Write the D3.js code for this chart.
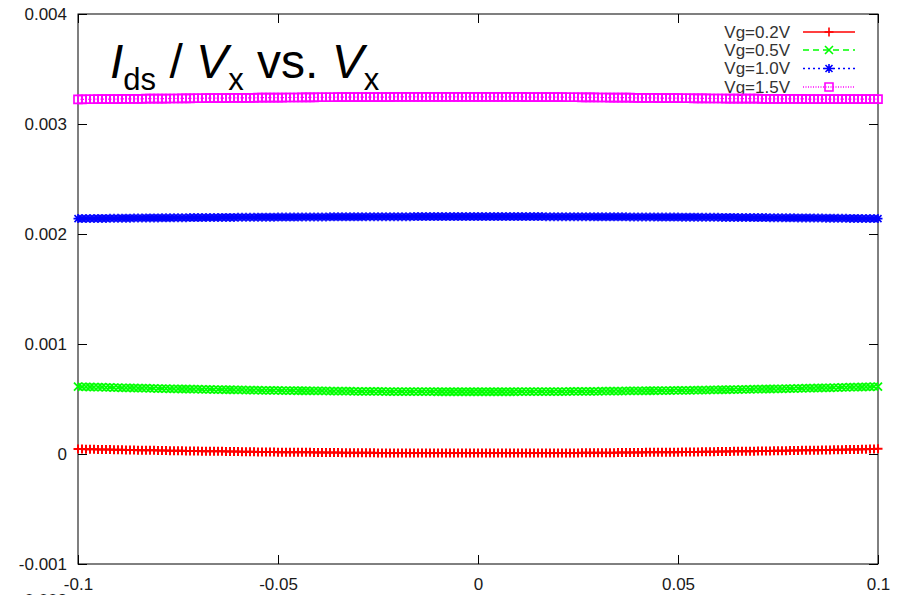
<!DOCTYPE html>
<html><head><meta charset="utf-8">
<script src="https://cdn.jsdelivr.net/npm/d3@7"></script>
<style>
body{margin:0;background:#fff}
svg{display:block;font-family:Arial,"Liberation Sans",sans-serif}
</style>
</head><body>
<svg id="c" width="899" height="595"></svg>
<script>
// ---- data ----
const seriesNames = ["Vg=0.2V", "Vg=0.5V", "Vg=1.0V", "Vg=1.5V"];
const xTicks = [-0.1, -0.05, 0, 0.05, 0.1];
const yTicks = [-0.001, 0, 0.001, 0.002, 0.003, 0.004];
const xStart = -0.1, xStep = 0.001;       // Vx sweep grid
const valueUnit = 1e-6;                    // series values below are in units of 1e-6

const vg02 = [
46,45,44,44,43,42,42,41,40,39, 39,38,37,37,36,35,35,34,34,33,
32,32,31,30,30,29,29,28,28,27, 27,26,26,25,25,24,24,23,23,22,
22,21,21,20,20,19,19,19,18,18, 17,17,17,16,16,16,15,15,15,14,
14,14,13,13,13,13,12,12,12,12, 11,11,11,11,11,10,10,10,10,10,
9,9,9,9,9,9,9,9,9,8, 8,8,8,8,8,8,8,8,8,8, 8,
8,8,8,8,8,8,8,8,8,8, 8,9,9,9,9,9,9,9,9,9,
10,10,10,10,10,11,11,11,11,11, 12,12,12,12,13,13,13,13,14,14,
14,15,15,15,16,16,16,17,17,17, 18,18,19,19,19,20,20,21,21,22,
22,23,23,24,24,25,25,26,26,27, 27,28,28,29,29,30,30,31,32,32,
33,34,34,35,35,36,37,37,38,39, 39,40,41,42,42,43,44,45,46,47
];
const vg05 = [
612,611,610,609,608,608,607,606,605,604, 603,602,602,601,600,599,598,598,597,596,
595,595,594,593,593,592,591,591,590,589, 589,588,587,587,586,585,585,584,584,583,
583,582,581,581,580,580,579,579,578,578, 578,577,577,576,576,575,575,575,574,574,
573,573,573,572,572,572,571,571,571,570, 570,570,570,569,569,569,569,568,568,568,
568,568,567,567,567,567,567,567,567,567, 566,566,566,566,566,566,566,566,566,566, 566,
566,566,566,566,566,566,566,566,566,567, 567,567,567,567,567,567,567,568,568,568,
568,568,569,569,569,569,570,570,570,570, 571,571,571,572,572,572,573,573,573,574,
574,575,575,575,576,576,577,577,578,578, 578,579,579,580,580,581,581,582,583,583,
584,584,585,585,586,587,587,588,589,589, 590,591,591,592,593,593,594,595,595,596,
597,598,598,599,600,601,602,602,603,604, 605,606,607,608,608,609,610,611,612,613
];
const vg10 = [
2140,2140,2141,2141,2141,2142,2142,2142,2143,2143, 2143,2144,2144,2144,2145,2145,2145,2146,2146,2146,
2146,2147,2147,2147,2148,2148,2148,2148,2149,2149, 2149,2149,2150,2150,2150,2150,2151,2151,2151,2151,
2152,2152,2152,2152,2152,2153,2153,2153,2153,2153, 2154,2154,2154,2154,2154,2154,2155,2155,2155,2155,
2155,2155,2155,2156,2156,2156,2156,2156,2156,2156, 2156,2156,2157,2157,2157,2157,2157,2157,2157,2157,
2157,2157,2157,2157,2158,2158,2158,2158,2158,2158, 2158,2158,2158,2158,2158,2158,2158,2158,2158,2158, 2158,
2158,2158,2158,2158,2158,2158,2158,2158,2158,2158, 2158,2158,2158,2158,2158,2158,2157,2157,2157,2157,
2157,2157,2157,2157,2157,2157,2157,2157,2156,2156, 2156,2156,2156,2156,2156,2156,2156,2155,2155,2155,
2155,2155,2155,2155,2154,2154,2154,2154,2154,2154, 2153,2153,2153,2153,2153,2152,2152,2152,2152,2152,
2151,2151,2151,2151,2150,2150,2150,2150,2149,2149, 2149,2149,2148,2148,2148,2148,2147,2147,2147,2146,
2146,2146,2146,2145,2145,2145,2144,2144,2144,2143, 2143,2143,2142,2142,2142,2141,2141,2141,2140,2140
];
const vg15 = [
3224,3224,3225,3225,3225,3226,3226,3226,3227,3227, 3227,3228,3228,3228,3229,3229,3229,3230,3230,3230,
3231,3231,3231,3232,3232,3232,3233,3233,3233,3234, 3234,3234,3235,3235,3235,3236,3236,3236,3237,3237,
3237,3238,3238,3238,3238,3239,3239,3239,3240,3240, 3240,3240,3241,3241,3241,3241,3242,3242,3242,3242,
3243,3243,3243,3243,3243,3244,3244,3244,3244,3244, 3244,3245,3245,3245,3245,3245,3245,3245,3245,3246,
3246,3246,3246,3246,3246,3246,3246,3246,3246,3246, 3246,3246,3246,3246,3246,3246,3246,3246,3246,3246, 3246,
3246,3246,3246,3246,3246,3246,3246,3246,3246,3246, 3246,3245,3245,3245,3245,3245,3245,3244,3244,3244,
3244,3243,3243,3243,3243,3242,3242,3242,3242,3241, 3241,3241,3240,3240,3240,3239,3239,3239,3238,3238,
3238,3237,3237,3237,3236,3236,3236,3235,3235,3235, 3234,3234,3234,3233,3233,3233,3233,3232,3232,3232,
3232,3231,3231,3231,3231,3230,3230,3230,3230,3230, 3229,3229,3229,3229,3229,3228,3228,3228,3228,3228,
3228,3227,3227,3227,3227,3227,3227,3227,3227,3227, 3227,3227,3227,3227,3227,3227,3227,3227,3227,3227
];

// ---- drawing ----
const svg = d3.select("#c");
const L = 78, R = 878, T = 14, B = 564;
const x = d3.scaleLinear().domain([-0.1, 0.1]).range([L, R]);
const y = d3.scaleLinear().domain([-0.001, 0.004]).range([B, T]);

svg.append("rect").attr("width", 899).attr("height", 595).attr("fill", "#fff");

function styleAxis(g, showText) {
  g.select(".domain").remove();
  g.selectAll(".tick line").attr("stroke", "#000").attr("stroke-width", 1);
  g.selectAll(".tick text").attr("fill", "#1a1a1a").style("font-size", "17px")
    .style("font-family", "Arial, 'Liberation Sans', sans-serif");
  if (!showText) g.selectAll(".tick text").remove();
}
const fmt = d => String(d);

svg.append("g").attr("transform", `translate(0,${B})`)
  .call(d3.axisBottom(x).tickValues(xTicks).tickFormat(fmt).tickSizeInner(-9).tickSizeOuter(0).tickPadding(14))
  .call(g => styleAxis(g, true));
svg.append("g").attr("transform", `translate(0,${T})`)
  .call(d3.axisTop(x).tickValues(xTicks).tickFormat(fmt).tickSizeInner(-9).tickSizeOuter(0))
  .call(g => styleAxis(g, false));
svg.append("g").attr("transform", `translate(${L},0)`)
  .call(d3.axisLeft(y).tickValues(yTicks).tickFormat(fmt).tickSizeInner(-9).tickSizeOuter(0).tickPadding(11))
  .call(g => styleAxis(g, true));
svg.append("g").attr("transform", `translate(${R},0)`)
  .call(d3.axisRight(y).tickValues(yTicks).tickFormat(fmt).tickSizeInner(-9).tickSizeOuter(0))
  .call(g => styleAxis(g, false));

// label cut off by the bottom edge, as in the reference
svg.append("text").attr("x", 67).attr("y", 606).attr("text-anchor", "end")
  .attr("fill", "#1a1a1a").style("font-size", "17px").text("-0.002");

svg.append("rect").attr("x", L).attr("y", T).attr("width", R - L).attr("height", B - T)
  .attr("fill", "none").attr("stroke", "#000").attr("stroke-width", 1);

const markers = {
  plus: "M-4.5,0H4.5M0,-4.5V4.5",
  cross: "M-4,-4L4,4M-4,4L4,-4",
  star: "M-4.5,0H4.5M0,-4.5V4.5M-3.5,-3.5L3.5,3.5M-3.5,3.5L3.5,-3.5",
  square: "M-4,-4H4V4H-4Z"
};
const series = [
  { name: seriesNames[0], values: vg02, color: "#ff0000", dash: null, marker: "plus", sw: 2 },
  { name: seriesNames[1], values: vg05, color: "#00ff00", dash: "6,4", marker: "cross", sw: 1.8 },
  { name: seriesNames[2], values: vg10, color: "#0000ff", dash: "2,3", marker: "star", sw: 1.6 },
  { name: seriesNames[3], values: vg15, color: "#ff00ff", dash: "1,1.5", marker: "square", sw: 1.7 }
];

// legend
const legRows = [32, 50, 68.5, 87];
const leg = svg.append("g");
series.forEach((s, i) => {
  const ly = legRows[i];
  leg.append("text").attr("x", 790).attr("y", ly).attr("dy", "0.35em").attr("text-anchor", "end")
    .attr("fill", "#333").style("font-size", "17px").text(s.name);
  leg.append("line").attr("x1", 803).attr("x2", 855).attr("y1", ly).attr("y2", ly)
    .attr("stroke", s.color).attr("stroke-width", 1.5).attr("stroke-dasharray", s.dash);
  leg.append("path").attr("d", markers[s.marker]).attr("transform", `translate(829,${ly})`)
    .attr("fill", "none").attr("stroke", s.color).attr("stroke-width", 1.6);
});

// series
series.forEach(s => {
  const pts = s.values.map((v, i) => [xStart + i * xStep, v * valueUnit]);
  const g = svg.append("g");
  g.append("path").datum(pts)
    .attr("d", d3.line().x(d => x(d[0])).y(d => y(d[1])))
    .attr("fill", "none").attr("stroke", s.color).attr("stroke-width", 1.2)
    .attr("stroke-dasharray", s.dash);
  g.selectAll("path.m").data(pts).join("path").attr("class", "m")
    .attr("d", markers[s.marker])
    .attr("transform", d => `translate(${x(d[0])},${y(d[1])})`)
    .attr("fill", "none").attr("stroke", s.color).attr("stroke-width", s.sw);
});

// title
const title = svg.append("text").attr("x", 110).attr("y", 78).attr("fill", "#000")
  .style("font-size", "48px");
title.append("tspan").style("font-style", "italic").text("I");
title.append("tspan").attr("dy", 12).style("font-size", "31px").text("ds");
title.append("tspan").attr("dy", -12).text("\u00a0/\u00a0");
title.append("tspan").style("font-style", "italic").text("V");
title.append("tspan").attr("dy", 12).style("font-size", "31px").text("x");
title.append("tspan").attr("dy", -12).text("\u00a0vs.\u00a0");
title.append("tspan").style("font-style", "italic").text("V");
title.append("tspan").attr("dy", 12).style("font-size", "31px").text("x");
</script>
</body></html>
